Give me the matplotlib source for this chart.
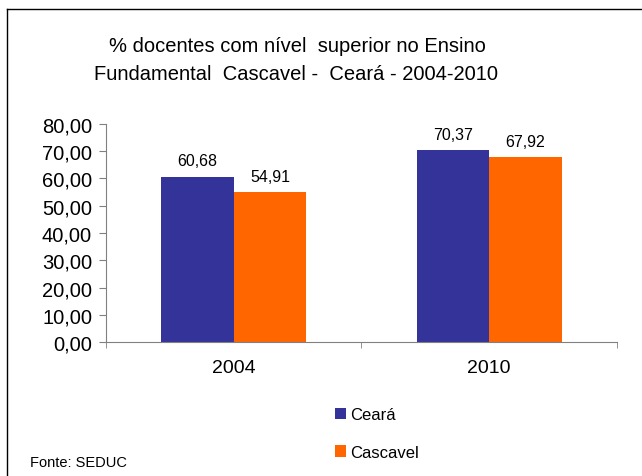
import numpy as np
import matplotlib.pyplot as plt
from matplotlib.lines import Line2D
from matplotlib.ticker import FuncFormatter

plt.rcParams['font.family'] = ['Liberation Sans', 'DejaVu Sans']

anos = ['2004', '2010']
ceara = [60.68, 70.37]
cascavel = [54.91, 67.92]

azul = '#333399'
laranja = '#ff6600'

fig = plt.figure(figsize=(6.42, 4.77), dpi=100)
ax = fig.add_axes([0.1651, 0.2809, 0.7959, 0.4571])

x = np.arange(len(anos))
w = 0.284
b1 = ax.bar(x - w/2, ceara, w, color=azul, label='Ceará')
b2 = ax.bar(x + w/2, cascavel, w, color=laranja, label='Cascavel')

# rotulos dos valores com virgula
for barras in (b1, b2):
    for r in barras:
        v = r.get_height()
        ax.annotate(f'{v:.2f}'.replace('.', ','), xy=(r.get_x() + r.get_width()/2, v),
                    xytext=(0, 6), textcoords='offset points',
                    ha='center', va='bottom', fontsize=11.5)

ax.set_ylim(0, 80)
ax.set_yticks(np.arange(0, 81, 10))
ax.yaxis.set_major_formatter(FuncFormatter(lambda v, p: f'{v:.2f}'.replace('.', ',')))
ax.set_xlim(-0.5, 1.5)
ax.set_xticks(x)
ax.set_xticklabels(anos)
ax.set_xticks([-0.5, 0.5, 1.5], minor=True)
ax.tick_params(axis='x', which='major', length=0, labelsize=14, pad=12)
ax.tick_params(axis='x', which='minor', length=4, color='#808080', direction='out')
ax.tick_params(axis='y', length=5, color='#808080', labelsize=14.5, pad=5)

for s in ['top', 'right']:
    ax.spines[s].set_visible(False)
for s in ['left', 'bottom']:
    ax.spines[s].set_color('#808080')

fig.text(297/642, 1 - 47/477, '% docentes com nível  superior no Ensino',
         ha='center', va='center', fontsize=14.5)
fig.text(296/642, 1 - 75/477, 'Fundamental  Cascavel -  Ceará - 2004-2010',
         ha='center', va='center', fontsize=14.5)

fig.legend(handles=[b1, b2], loc='upper left', bbox_to_anchor=(327/642, 1 - 400/477),
           frameon=False, fontsize=12, handlelength=0.65, handleheight=0.65,
           handletextpad=0.25, labelspacing=1.35, borderpad=0)

fig.text(30/642, 1 - 463/477, 'Fonte: SEDUC', ha='left', va='center', fontsize=10.5)

# moldura
fig.add_artist(Line2D([7/642, 1], [1 - 10/477, 1 - 10/477], color='black', lw=1))
fig.add_artist(Line2D([7/642, 7/642], [1 - 10/477, 0], color='black', lw=1))

fig.savefig('out.png', dpi=100)
